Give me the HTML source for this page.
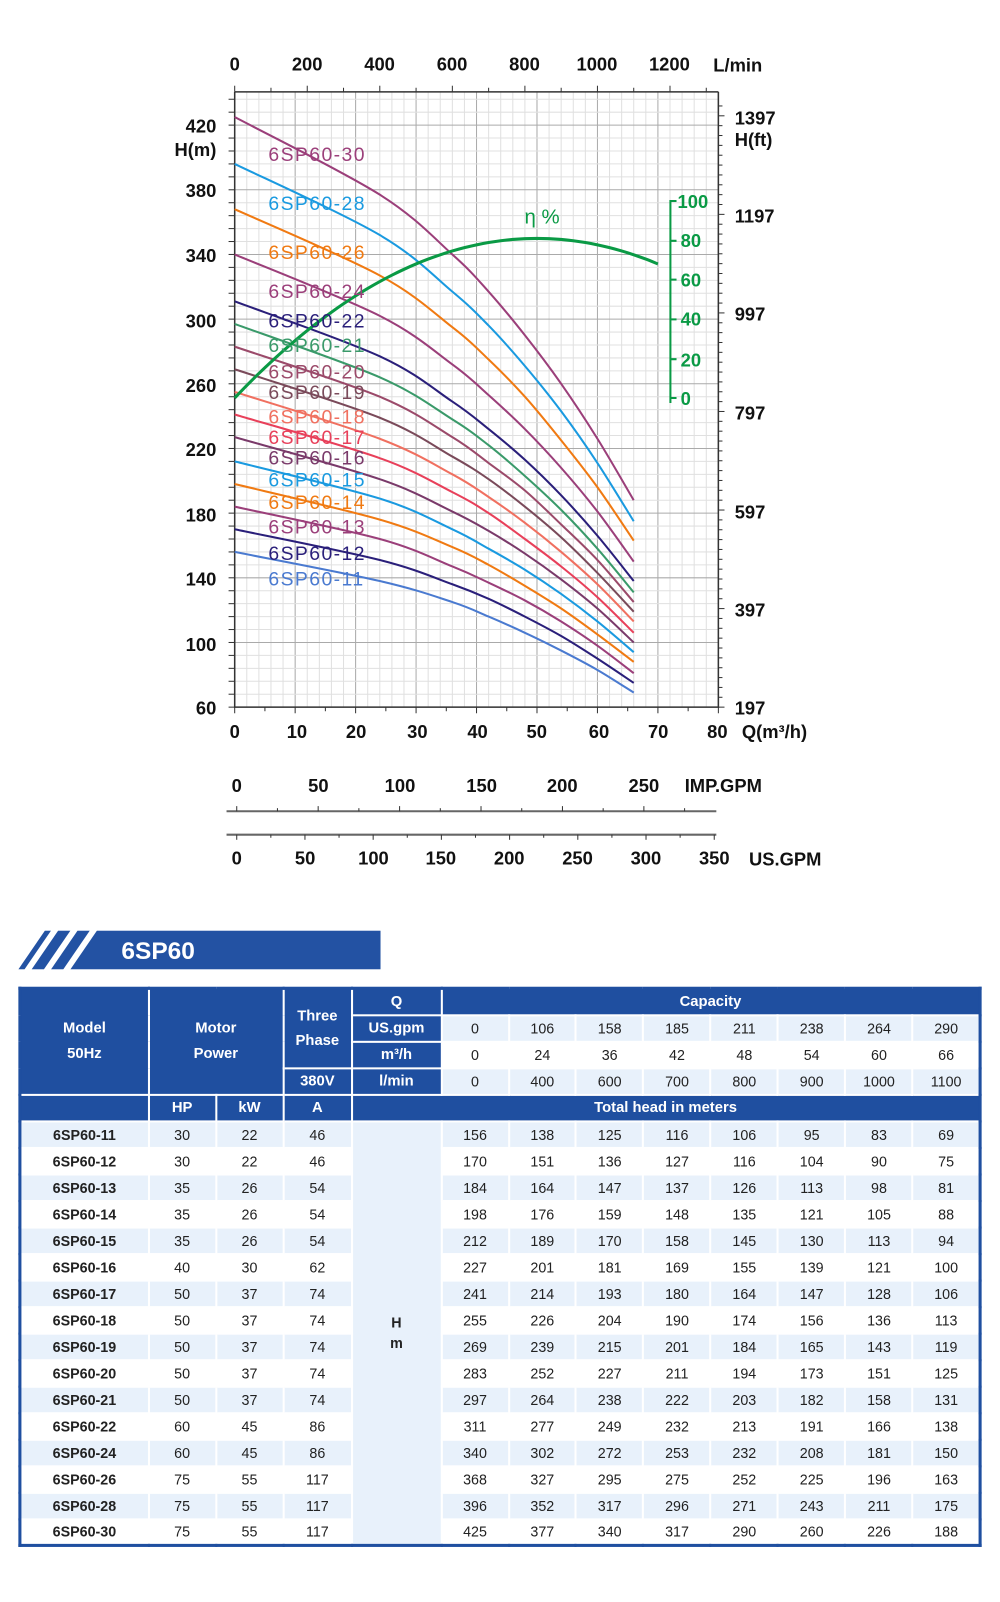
<!DOCTYPE html>
<html><head><meta charset="utf-8">
<style>
html,body{margin:0;padding:0;background:#fff;}
body{width:1000px;height:1602px;overflow:hidden;position:relative;}
#wrap{position:absolute;left:0;top:0;width:980px;height:1570px;transform:scale(1.020408);transform-origin:0 0;}
svg text{font-family:"Liberation Sans",Arial,sans-serif;}
.b{font-weight:bold;font-size:18px;fill:#111;}
.lab{font-size:19px;letter-spacing:1.4px;}
#banner{position:absolute;left:18px;top:912px;width:355px;height:38px;}
table{position:absolute;left:18px;top:967px;width:944px;border-collapse:collapse;table-layout:fixed;font-family:"Liberation Sans",Arial,sans-serif;font-size:14px;color:#222;border:3px solid #1f4fa0;}
tr{height:26px;}
td{border:2px solid #fff;text-align:center;padding:0;height:22px;line-height:22px;}
tr.l td{background:#e8f1fb;}
tr.w td{background:#fff;}
table tr td.h{background:#1f4fa0;color:#fff;font-weight:bold;font-size:14.5px;}
td.m{font-weight:bold;}
table tr td.hc{background:#e8f1fb;font-weight:bold;line-height:20px;}
</style></head><body><div id="wrap">
<svg width="980" height="880" style="position:absolute;left:0;top:0">
<g id="grid"></g>
<g id="axes" stroke="#333" stroke-width="1.5" fill="none"></g>
<g id="curves" fill="none" stroke-width="2"></g>
<g class="b" text-anchor="middle">
<text x="230" y="69">0</text><text x="301" y="69">200</text><text x="372" y="69">400</text><text x="443" y="69">600</text><text x="514" y="69">800</text><text x="585" y="69">1000</text><text x="656" y="69">1200</text>
</g>
<text class="b" x="699" y="70">L/min</text>
<g class="b" text-anchor="end">
<text x="212" y="130">420</text><text x="212" y="193">380</text><text x="212" y="257">340</text><text x="212" y="321">300</text><text x="212" y="384">260</text><text x="212" y="447">220</text><text x="212" y="511">180</text><text x="212" y="574">140</text><text x="212" y="638">100</text><text x="212" y="700">60</text>
<text x="212" y="153">H(m)</text>
</g>
<g class="b">
<text x="720" y="122">1397</text><text x="720" y="143">H(ft)</text><text x="720" y="218">1197</text><text x="720" y="314">997</text><text x="720" y="411">797</text><text x="720" y="508">597</text><text x="720" y="604">397</text><text x="720" y="700">197</text>
</g>
<g class="b" text-anchor="middle">
<text x="230" y="723">0</text><text x="291" y="723">10</text><text x="349" y="723">20</text><text x="409" y="723">30</text><text x="468" y="723">40</text><text x="526" y="723">50</text><text x="587" y="723">60</text><text x="645" y="723">70</text><text x="703" y="723">80</text>
</g>
<text class="b" x="727" y="723">Q(m³/h)</text>
<g class="b" text-anchor="middle">
<text x="232" y="776">0</text><text x="312" y="776">50</text><text x="392" y="776">100</text><text x="472" y="776">150</text><text x="551" y="776">200</text><text x="631" y="776">250</text>
</g>
<text class="b" x="671" y="776">IMP.GPM</text>
<g class="b" text-anchor="middle">
<text x="232" y="847">0</text><text x="299" y="847">50</text><text x="366" y="847">100</text><text x="432" y="847">150</text><text x="499" y="847">200</text><text x="566" y="847">250</text><text x="633" y="847">300</text><text x="700" y="847">350</text>
</g>
<text class="b" x="734" y="848">US.GPM</text>
<g stroke="#0a9a45" stroke-width="2" fill="none">
<path d="M663 197 H657 V395"/>
<path d="M657 236 h6 M657 274 h6 M657 313 h6 M657 352 h6 M657 390 h6"/>
</g>
<g font-weight="bold" font-size="18" fill="#0a9a45">
<text x="664" y="204">100</text><text x="667" y="242">80</text><text x="667" y="281">60</text><text x="667" y="319">40</text><text x="667" y="359">20</text><text x="667" y="397">0</text>
</g>
<text x="514" y="219" font-size="20" fill="#0a9a45">η %</text>
<path id="eff" fill="none" stroke="#0a9a45" stroke-width="3"/>
<g class="lab">
<text x="263" y="158" fill="#9b3f7a">6SP60-30</text>
<text x="263" y="206" fill="#1a9ae0">6SP60-28</text>
<text x="263" y="254" fill="#f07a12">6SP60-26</text>
<text x="263" y="292" fill="#9b3f7a">6SP60-24</text>
<text x="263" y="321" fill="#2a1f7a">6SP60-22</text>
<text x="263" y="345" fill="#3a9a6a">6SP60-21</text>
<text x="263" y="371" fill="#9b4a6a">6SP60-20</text>
<text x="263" y="391" fill="#7a4a5a">6SP60-19</text>
<text x="263" y="415" fill="#f07060">6SP60-18</text>
<text x="263" y="435" fill="#e8405a">6SP60-17</text>
<text x="263" y="455" fill="#7a3a6a">6SP60-16</text>
<text x="263" y="477" fill="#1a9ae0">6SP60-15</text>
<text x="263" y="499" fill="#f07a12">6SP60-14</text>
<text x="263" y="523" fill="#9b3f7a">6SP60-13</text>
<text x="263" y="549" fill="#2a1f7a">6SP60-12</text>
<text x="263" y="574" fill="#4a7ad0">6SP60-11</text>
</g>
</svg>
<svg id="banner" viewBox="0 0 355 38"><polygon points="0,38 26,0 32,0 6,38" fill="#2352a3"/><polygon points="13,38 39,0 51,0 25,38" fill="#2352a3"/><polygon points="32,38 58,0 70,0 44,38" fill="#2352a3"/><polygon points="51,38 77,0 355,0 355,38" fill="#2352a3"/><text x="101" y="28" font-family="Liberation Sans,sans-serif" font-weight="bold" font-size="24" fill="#fff">6SP60</text></svg>
<table>
<colgroup><col style="width:126px"><col style="width:66px"><col style="width:66px"><col style="width:67px"><col style="width:88px"><col><col><col><col><col><col><col><col></colgroup>
<tr><td class="h" rowspan="4" style="line-height:25px">Model<br>50Hz</td><td class="h" colspan="2" rowspan="4" style="line-height:25px">Motor<br>Power</td><td class="h" rowspan="3" style="line-height:24px">Three<br>Phase</td><td class="h">Q</td><td class="h" colspan="8">Capacity</td></tr>
<tr class="l"><td class="h">US.gpm</td><td>0</td><td>106</td><td>158</td><td>185</td><td>211</td><td>238</td><td>264</td><td>290</td></tr>
<tr class="w"><td class="h">m³/h</td><td>0</td><td>24</td><td>36</td><td>42</td><td>48</td><td>54</td><td>60</td><td>66</td></tr>
<tr class="l"><td class="h">380V</td><td class="h">l/min</td><td>0</td><td>400</td><td>600</td><td>700</td><td>800</td><td>900</td><td>1000</td><td>1100</td></tr>
<tr><td class="h"></td><td class="h">HP</td><td class="h">kW</td><td class="h">A</td><td class="h" colspan="9">Total head in meters</td></tr>
<tbody id="tb"></tbody>
</table>
</div>
<script>
var X=function(q){return 230+q*5.925;},Y=function(h){return 693-(h-60)*1.5844;};
var g='';
for(var q=0;q<=80;q+=2){var x=X(q);g+='<line x1="'+x+'" y1="90" x2="'+x+'" y2="693" stroke="'+(q%10==0?'#aaa':'#e0e0e0')+'" stroke-width="1"/>';}
for(var h=60;h<=436;h+=8){var y=Y(h);g+='<line x1="230" y1="'+y+'" x2="704" y2="'+y+'" stroke="'+((h-60)%40==0?'#aaa':'#e0e0e0')+'" stroke-width="1"/>';}
document.getElementById('grid').innerHTML=g;
var a='<path d="M230 90 V693 H704 V90 M230 90 H704"/>';
for(var h=60;h<=436;h+=8){var y=Y(h);a+='<path d="M224 '+y+' h6" stroke-width="1"/>';}
for(var l=0;l<=1300;l+=100){var x=230+l*0.06*5.925;a+='<path d="M'+x+' 90 v'+(l%200==0?-6:-4)+'" stroke-width="1"/>';}
for(var q=0;q<=80;q+=5){var x=X(q);a+='<path d="M'+x+' 693 v'+(q%10==0?6:4)+'" stroke-width="1"/>';}
for(var f=197;f<=1430;f+=20){var y=693-(f-197)*0.3048*1.5844;if(y<90)break;a+='<path d="M704 '+y+' h'+((f-197)%200==0?6:4)+'" stroke-width="1"/>';}
a+='<path d="M222 795 H702" stroke="#666" stroke-width="2"/><path d="M222 818 H702" stroke="#666" stroke-width="2"/>';
for(var i=0;i<=300;i+=25){var x=232+i*1.596;if(x>702)break;a+='<path d="M'+x+' 795 v'+(i%50==0?-5:-3)+'" stroke-width="1"/>';}
for(var i=0;i<=350;i+=25){var x=232+i*1.337;a+='<path d="M'+x+' 818 v'+(i%50==0?5:3)+'" stroke-width="1"/>';}
document.getElementById('axes').innerHTML=a;
var Qs=[0,24,36,42,48,54,60,66];
var D=[["6SP60-11",30,22,46,[156,138,125,116,106,95,83,69],"#4a7ad0"],["6SP60-12",30,22,46,[170,151,136,127,116,104,90,75],"#2a1f7a"],["6SP60-13",35,26,54,[184,164,147,137,126,113,98,81],"#9b3f7a"],["6SP60-14",35,26,54,[198,176,159,148,135,121,105,88],"#f07a12"],["6SP60-15",35,26,54,[212,189,170,158,145,130,113,94],"#1a9ae0"],["6SP60-16",40,30,62,[227,201,181,169,155,139,121,100],"#7a3a6a"],["6SP60-17",50,37,74,[241,214,193,180,164,147,128,106],"#e8405a"],["6SP60-18",50,37,74,[255,226,204,190,174,156,136,113],"#f07060"],["6SP60-19",50,37,74,[269,239,215,201,184,165,143,119],"#7a4a5a"],["6SP60-20",50,37,74,[283,252,227,211,194,173,151,125],"#9b4a6a"],["6SP60-21",50,37,74,[297,264,238,222,203,182,158,131],"#3a9a6a"],["6SP60-22",60,45,86,[311,277,249,232,213,191,166,138],"#2a1f7a"],["6SP60-24",60,45,86,[340,302,272,253,232,208,181,150],"#9b3f7a"],["6SP60-26",75,55,117,[368,327,295,275,252,225,196,163],"#f07a12"],["6SP60-28",75,55,117,[396,352,317,296,271,243,211,175],"#1a9ae0"],["6SP60-30",75,55,117,[425,377,340,317,290,260,226,188],"#9b3f7a"]];
function spline(p){var d='M'+p[0][0]+' '+p[0][1];for(var i=0;i<p.length-1;i++){var p0=p[i-1]||p[i],p1=p[i],p2=p[i+1],p3=p[i+2]||p2;d+=' C'+(p1[0]+(p2[0]-p0[0])/6)+' '+(p1[1]+(p2[1]-p0[1])/6)+' '+(p2[0]-(p3[0]-p1[0])/6)+' '+(p2[1]-(p3[1]-p1[1])/6)+' '+p2[0]+' '+p2[1];}return d;}
var c='',t='';
D.forEach(function(r,i){var p=Qs.map(function(q,j){return [X(q),Y(r[4][j])];});c+='<path d="'+spline(p)+'" stroke="'+r[5]+'"/>';
t+='<tr class="'+(i%2==0?'l':'w')+'"><td class="m">'+r[0]+'</td><td>'+r[1]+'</td><td>'+r[2]+'</td><td>'+r[3]+'</td>'+(i==0?'<td class="hc" rowspan="16">H<br>m</td>':'')+r[4].map(function(v){return '<td>'+v+'</td>';}).join('')+'</tr>';});
document.getElementById('curves').innerHTML=c;
document.getElementById('tb').innerHTML=t;
var e=[];for(var q=0;q<=70;q+=2){var eta=3.24*q-0.0324*q*q;e.push([X(q),390-eta*1.93]);}
document.getElementById('eff').setAttribute('d',spline(e));
</script>
</body></html>
